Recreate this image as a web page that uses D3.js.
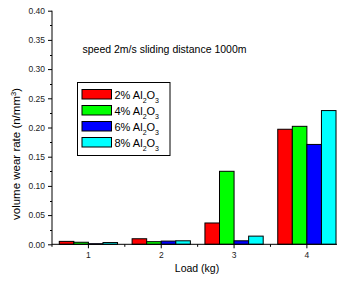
<!DOCTYPE html>
<html>
<head>
<meta charset="utf-8">
<script src="https://cdn.jsdelivr.net/npm/d3@7"></script>
<style>
  body { margin: 0; background: #fff; }
  text { font-family: "Liberation Sans", Arial, sans-serif; }
</style>
</head>
<body>
<svg id="chart" width="337" height="282"></svg>
<script>
// data
var loads = ["1", "2", "3", "4"];
var seriesNames = ["2%", "4%", "6%", "8%"];
var seriesColors = ["#ff0000", "#00ff00", "#0000ff", "#00ffff"];
var wear2 = [0.005, 0.0095, 0.0365, 0.197];
var wear4 = [0.0035, 0.0045, 0.125, 0.202];
var wear6 = [0.001, 0.0055, 0.006, 0.171];
var wear8 = [0.003, 0.006, 0.014, 0.229];
var yTicks = [0, 0.05, 0.10, 0.15, 0.20, 0.25, 0.30, 0.35, 0.40];

var allSeries = [wear2, wear4, wear6, wear8];

var svg = d3.select("#chart");
var margin = {left: 52, top: 10.7, bottom: 244.3};

var xScale = d3.scaleBand().domain(loads).range([margin.left, 343.3]).padding(0);
var inner = d3.scaleBand().domain(d3.range(4)).range([0, xScale.bandwidth() * 0.8]);
var yScale = d3.scaleLinear().domain([0, 0.40]).range([margin.bottom, margin.top]);

// bars
var rows = [];
loads.forEach(function(l, i) {
    allSeries.forEach(function(s, j) {
        rows.push({load: l, k: j, v: s[i]});
    });
});
var off = xScale.bandwidth() * 0.1;
svg.append("g").selectAll("rect")
    .data(rows)
    .enter().append("rect")
    .attr("x", function(d) { return xScale(d.load) + off + inner(d.k); })
    .attr("y", function(d) { return yScale(d.v); })
    .attr("width", inner.bandwidth())
    .attr("height", function(d) { return yScale(0) - yScale(d.v); })
    .attr("fill", function(d) { return seriesColors[d.k]; })
    .attr("stroke", "#000")
    .attr("stroke-width", 1);

// y axis
var yAxis = d3.axisLeft(yScale).tickValues(yTicks)
    .tickFormat(d3.format(".2f")).tickSize(4).tickPadding(3);
var gy = svg.append("g")
    .attr("transform", "translate(" + margin.left + ",0)")
    .call(yAxis);
gy.select(".domain").attr("d", "M0," + margin.top + "V" + margin.bottom);
gy.selectAll("text").attr("font-size", 8.5).attr("fill", "#222");
// minor y ticks
svg.append("g").selectAll("line")
    .data(yTicks.slice(0, -1).map(function(t) { return t + 0.025; }))
    .enter().append("line")
    .attr("x1", margin.left - 2).attr("x2", margin.left)
    .attr("y1", function(d) { return Math.round(yScale(d)) + 0.5; })
    .attr("y2", function(d) { return Math.round(yScale(d)) + 0.5; })
    .attr("stroke", "#000");

// x axis
var xAxis = d3.axisBottom(xScale).tickSize(4).tickPadding(4);
var gx = svg.append("g")
    .attr("transform", "translate(0," + margin.bottom + ")")
    .call(xAxis);
gx.select(".domain").attr("d", "M" + margin.left + ",0H337");
gx.selectAll("text").attr("font-size", 8.5).attr("fill", "#222");
// minor x ticks on band edges
svg.append("g").selectAll("line")
    .data(loads)
    .enter().append("line")
    .attr("x1", function(d) { return xScale(d); })
    .attr("x2", function(d) { return xScale(d); })
    .attr("y1", margin.bottom).attr("y2", margin.bottom + 2.5)
    .attr("stroke", "#000");

// axis titles
svg.append("text")
    .attr("x", 197).attr("y", 272)
    .attr("text-anchor", "middle")
    .attr("font-size", 10.5)
    .text("Load (kg)");

var yl = svg.append("text")
    .attr("transform", "translate(20,154) rotate(-90)")
    .attr("text-anchor", "middle")
    .attr("font-size", 11.5);
yl.append("tspan").text("volume wear rate (n/mm");
yl.append("tspan").attr("baseline-shift", "super").attr("font-size", 7.5).text("3");
yl.append("tspan").text(")");

svg.append("text")
    .attr("x", 82.5).attr("y", 53)
    .attr("font-size", 10.5)
    .text("speed 2m/s sliding distance 1000m");

// legend
var lg = svg.append("g");
lg.append("rect")
    .attr("x", 77.5).attr("y", 82.5)
    .attr("width", 92.5).attr("height", 73)
    .attr("fill", "#fff").attr("stroke", "#000");
var items = lg.selectAll("g.item")
    .data(seriesNames)
    .enter().append("g")
    .attr("class", "item")
    .attr("transform", function(d, i) { return "translate(0," + (89 + i * 16) + ")"; });
items.append("rect")
    .attr("x", 82).attr("y", 0.5)
    .attr("width", 29.5).attr("height", 9.5)
    .attr("fill", function(d, i) { return seriesColors[i]; })
    .attr("stroke", "#000");
var lt = items.append("text")
    .attr("x", 114.5).attr("y", 9.5)
    .attr("font-size", 11);
lt.append("tspan").text(function(d) { return d + " Al"; });
lt.append("tspan").attr("baseline-shift", "sub").attr("font-size", 7).text("2");
lt.append("tspan").text("O");
lt.append("tspan").attr("baseline-shift", "sub").attr("font-size", 7).text("3");
</script>
</body>
</html>
